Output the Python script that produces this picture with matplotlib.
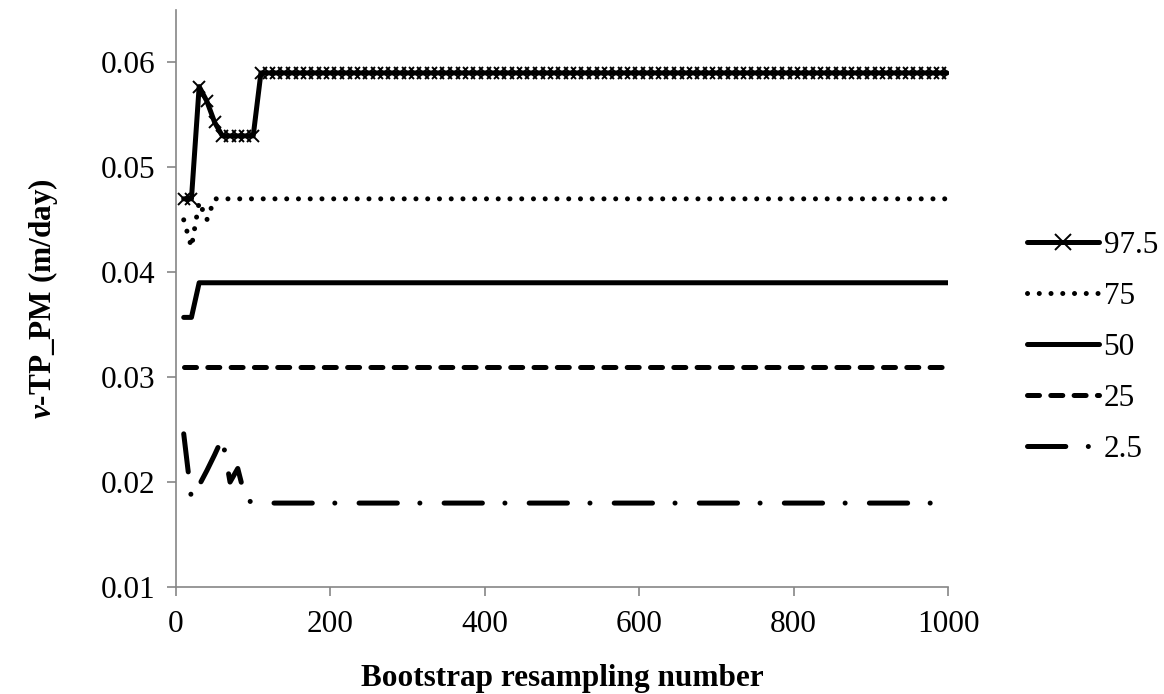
import numpy as np
import matplotlib.pyplot as plt

plt.rcParams["font.family"] = "Liberation Serif"
plt.rcParams["mathtext.fontset"] = "custom"
plt.rcParams["mathtext.it"] = "Liberation Serif:italic:bold"
plt.rcParams["mathtext.rm"] = "Liberation Serif:bold"
plt.rcParams["mathtext.bf"] = "Liberation Serif:bold"

# bootstrap resampling numbers 10, 20, ..., 1000
resamples = np.arange(10, 1001, 10)

# percentile curves of v-TP_PM (m/day)
p97_5 = [0.047, 0.047, 0.0577, 0.0563, 0.0543, 0.053, 0.053, 0.053, 0.053, 0.053] + [0.059] * 90
p75 = [0.045, 0.0424, 0.0467, 0.045, 0.047] + [0.047] * 95
p50 = [0.0357, 0.0357] + [0.039] * 98
p25 = [0.031] * 100
p2_5 = [0.0246, 0.0184, 0.0197, 0.0211, 0.0226, 0.0242, 0.0200, 0.0213, 0.0184, 0.018] + [0.018] * 90

labels = ["97.5", "75", "50", "25", "2.5"]

fs = 22.5
fig = plt.figure(figsize=(11.64, 6.94), dpi=100)
ax = fig.add_axes([176 / 1164, 1 - 587 / 694, (948 - 176) / 1164, (587 - 10) / 694])

lw = 3.6
common = dict(color="black", linewidth=lw, solid_capstyle="round", dash_capstyle="round")
ax.plot(resamples, p97_5, marker="x", markersize=8, markeredgewidth=1.4,
        label=labels[0], **common)
ax.plot(resamples, p75, linestyle=(0, (0.01, 2.34)), label=labels[1], **common)
ax.plot(resamples, p50, linestyle="-", label=labels[2], **common)
ax.plot(resamples, p25, linestyle=(0, (2.4, 2.26)), label=labels[3], **common)
ax.plot(resamples, p2_5, linestyle=(0, (7.66, 4.5, 0.01, 4.84)), label=labels[4], **common)

ax.set_xlim(0, 1000)
ax.set_ylim(0.01, 0.065)
ax.set_xticks(np.arange(0, 1001, 200))
yt = np.arange(0.01, 0.0601, 0.01)
ax.set_yticks(yt)
ax.set_yticklabels([f"{t:.2f}" for t in yt])

for s in ["top", "right"]:
    ax.spines[s].set_visible(False)
for s in ["left", "bottom"]:
    ax.spines[s].set_color("#868686")
    ax.spines[s].set_linewidth(1.2)
ax.tick_params(axis="both", colors="#868686", labelcolor="black", labelsize=fs,
               length=6.5, width=1.2, direction="out")
ax.tick_params(axis="y", pad=8)
ax.tick_params(axis="x", pad=10)

ax.set_xlabel("Bootstrap resampling number", fontsize=fs, fontweight="bold", labelpad=18)
ax.set_ylabel(r"$\mathit{\nu}$-TP_PM (m/day)", fontsize=fs, fontweight="bold", labelpad=30)

leg = fig.legend(loc="center left", bbox_to_anchor=(1027 / 1164, 1 - 347.5 / 694), frameon=False,
                 fontsize=fs, handlelength=2.3, handletextpad=0.15, labelspacing=0.70,
                 borderpad=0, borderaxespad=0, numpoints=1)
leg.legend_handles[0].set_markersize(11)

fig.savefig("out.png", dpi=100)
